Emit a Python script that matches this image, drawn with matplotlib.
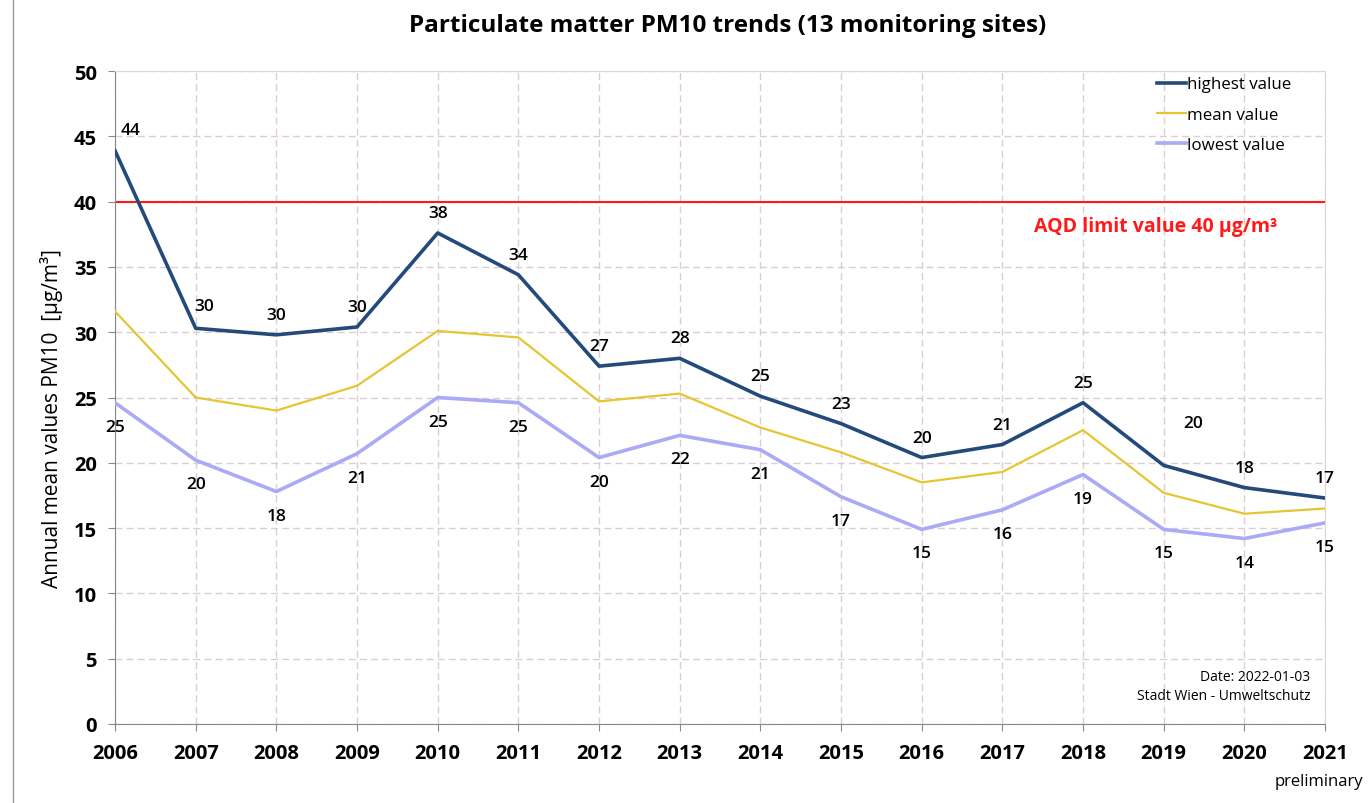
import matplotlib.pyplot as plt
from matplotlib.lines import Line2D

plt.rcParams['font.family'] = ['Open Sans', 'DejaVu Sans']

# Jahreswerte PM10 (µg/m³)
years = list(range(2006, 2022))
highest = [43.9, 30.3, 29.8, 30.4, 37.6, 34.4, 27.4, 28.0, 25.1, 23.0, 20.4, 21.4, 24.6, 19.8, 18.1, 17.3]
mean = [31.6, 25.0, 24.0, 25.9, 30.1, 29.6, 24.7, 25.3, 22.7, 20.8, 18.5, 19.3, 22.5, 17.7, 16.1, 16.5]
lowest = [24.6, 20.2, 17.8, 20.7, 25.0, 24.6, 20.4, 22.1, 21.0, 17.4, 14.9, 16.4, 19.1, 14.9, 14.2, 15.4]
limit = 40

fig = plt.figure(figsize=(13.71, 8.04), dpi=100)
ax = fig.add_axes([0.0839, 0.0983, 0.8826, 0.8121])

ax.plot(years, highest, color='#244a7c', lw=2.6, label='highest value', zorder=4)
ax.plot(years, mean, color='#e5c631', lw=1.6, label='mean value', zorder=3)
ax.plot(years, lowest, color='#aaaaf6', lw=2.6, label='lowest value', zorder=3)
ax.axhline(limit, color='#ff1a1a', lw=1.5, zorder=2)
ax.text(2018.9, 38.1, 'AQD limit value 40 µg/m³', color='#ff1a1a', fontsize=14,
        fontweight='bold', ha='center', va='center')

# Beschriftungen der Werte
hi_shift = {2006: (15, 21), 2007: (8, 22), 2019: (29, 42)}
for x, y in zip(years, highest):
    dx, dy = hi_shift.get(x, (0, 20))
    ax.annotate(f'{y:.0f}', (x, y), xytext=(dx, dy), textcoords='offset pixels',
                ha='center', va='center', fontsize=12.5, fontweight='semibold')
for x, y in zip(years, lowest):
    ax.annotate(f'{y:.0f}', (x, y), xytext=(0, -24), textcoords='offset pixels',
                ha='center', va='center', fontsize=12.5, fontweight='semibold')

ax.set_xlim(2006, 2021)
ax.set_ylim(0, 50)
ax.set_xticks(years)
ax.set_yticks(range(0, 51, 5))
ax.tick_params(axis='both', labelsize=14.5, color='#888888', length=5)
for lab in ax.get_xticklabels() + ax.get_yticklabels():
    lab.set_fontweight('bold')
ax.tick_params(axis='x', pad=9)
ax.tick_params(axis='y', pad=8)
ax.grid(True, color='#dccdd2', linestyle=(0, (5, 3)), lw=1)
ax.set_axisbelow(True)
for side in ['left', 'bottom']:
    ax.spines[side].set_color('#888888')
for side in ['top', 'right']:
    ax.spines[side].set_color('#e0d4d8')

ax.set_ylabel('Annual mean values PM10  [µg/m³]', fontsize=15)
ax.yaxis.set_label_coords(-0.043, 0.47)
fig.text(0.531, 0.968, 'Particulate matter PM10 trends (13 monitoring sites)', ha='center',
         va='center', fontsize=17.5, fontweight='bold')

ax.legend(loc='upper right', bbox_to_anchor=(0.985, 1.015), frameon=False, fontsize=12.2,
          handlelength=1.7, handletextpad=0.1, labelspacing=0.85)

ax.text(0.988, 0.072, 'Date: 2022-01-03', transform=ax.transAxes, ha='right',
        va='center', fontsize=10)
ax.text(0.988, 0.044, 'Stadt Wien - Umweltschutz', transform=ax.transAxes, ha='right',
        va='center', fontsize=10)
fig.text(0.994, 0.027, 'preliminary', ha='right', va='center', fontsize=12)

fig.add_artist(Line2D([0.0095, 0.0095], [0, 1], transform=fig.transFigure, color='#999999', lw=1))

fig.savefig('out.png', dpi=100)
